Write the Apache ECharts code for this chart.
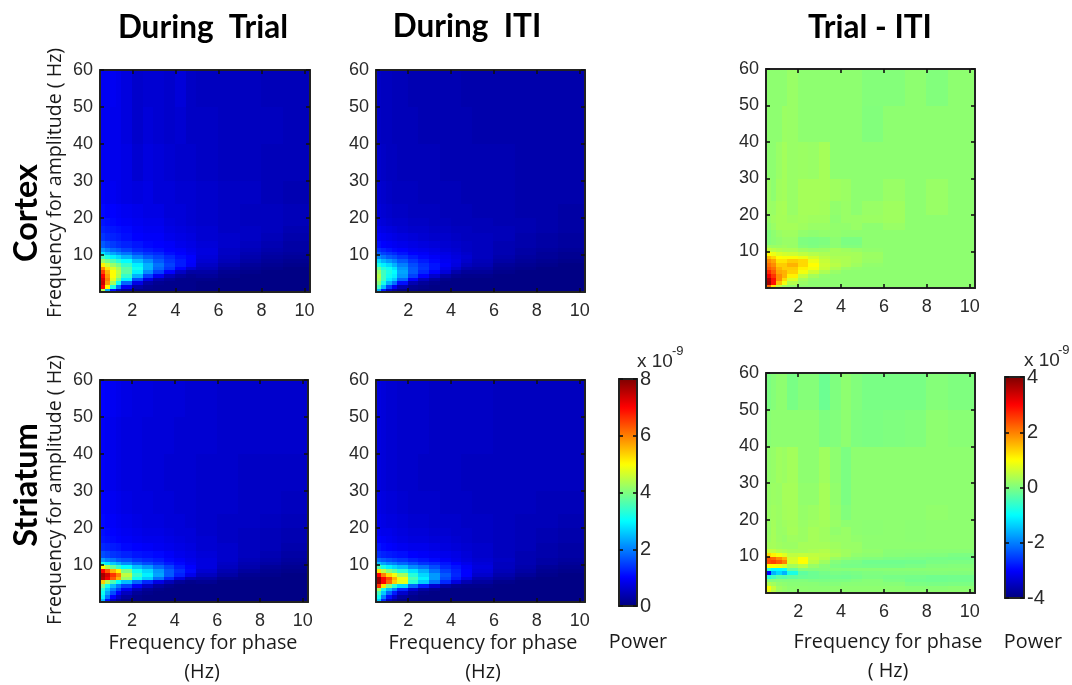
<!DOCTYPE html>
<html><head><meta charset="utf-8">
<style>html,body{margin:0;padding:0;background:#fff}#c{width:1072px;height:685px}</style>
<script src="https://cdn.jsdelivr.net/npm/echarts@6/dist/echarts.min.js"></script>
</head><body><div id="c"></div>
<script>
const phaseEdges=[0.5,0.75,1,1.25,1.5,2,2.5,3,3.5,4,4.5,5,6,7,8,9,10.25];
const ampEdges=[0,1,2,3,4,5,6,7,8,9,10,11,12,14,16,18,20,24,30,40,50,60];
const xTicks=[2,4,6,8,10];
const yTicks=[10,20,30,40,50,60];
const powerTicks=[0,2,4,6,8];
const diffTicks=[-4,-2,0,2,4];
const jetColors=['#00007f','#0000ff','#007fff','#00ffff','#7fff7f','#ffff00','#ff7f00','#ff0000','#7f0000'];

// rows run from the lowest amplitude band upward, columns from the lowest phase band rightward
const cortexTrial=[
[4.4,2.4,1.1,.5,.25,.1,.1,.1,.1,.1,.1,.05,.05,.05,.05,.05],
[7.0,5.0,3.2,1.9,.9,.3,.15,.1,.1,.1,.1,.05,.05,.05,.05,.05],
[7.4,5.8,4.3,3.1,1.8,.8,.3,.15,.1,.1,.1,.05,.05,.05,.05,.05],
[7.3,6.0,4.8,3.9,2.9,1.6,.8,.35,.2,.1,.1,.1,.05,.05,.05,.05],
[7.0,5.8,5.0,4.4,3.4,2.4,1.5,.9,.45,.25,.15,.2,.1,.05,.05,.05],
[6.5,5.6,5.0,4.5,3.7,2.9,2.1,1.5,1.0,.55,.3,.3,.15,.1,.05,.05],
[5.9,5.2,4.7,4.3,3.7,3.1,2.4,1.8,1.4,1.0,.65,.45,.25,.15,.1,.05],
[5.1,4.6,4.2,3.9,3.4,2.9,2.4,1.9,1.5,1.2,.95,.55,.35,.2,.15,.1],
[4.2,3.9,3.6,3.3,3.0,2.5,2.1,1.7,1.4,1.2,1.0,.65,.45,.3,.2,.15],
[3.5,3.2,2.9,2.7,2.4,2.0,1.7,1.5,1.3,1.1,1.0,.7,.5,.35,.25,.2],
[2.8,2.5,2.3,2.1,1.9,1.6,1.4,1.3,1.1,1.0,.9,.75,.55,.4,.3,.25],
[2.2,2.0,1.8,1.7,1.5,1.3,1.2,1.1,1.0,.95,.85,.75,.55,.45,.35,.3],
[1.7,1.55,1.45,1.35,1.25,1.15,1.05,1,.95,.85,.8,.7,.6,.5,.4,.3],
[1.4,1.3,1.25,1.2,1.1,1.0,.95,.95,.85,.8,.75,.65,.6,.55,.45,.35],
[1.25,1.2,1.15,1.1,1.05,.95,.9,.9,.8,.75,.7,.65,.55,.55,.5,.4],
[1.15,1.1,1.05,1.0,.95,.9,.85,.85,.75,.7,.65,.6,.55,.5,.5,.45],
[1.05,1.0,1.0,.95,.9,.85,.8,.8,.7,.7,.65,.6,.55,.5,.5,.45],
[.95,.9,.9,.85,.8,.75,.8,.7,.7,.65,.65,.6,.55,.55,.45,.4],
[.9,.9,.85,.85,.8,.65,.75,.7,.65,.6,.6,.55,.5,.5,.45,.45],
[.9,.9,.85,.85,.75,.6,.7,.65,.6,.65,.55,.55,.5,.5,.5,.45],
[.9,.9,.9,.85,.75,.6,.65,.65,.6,.7,.55,.5,.5,.5,.45,.45]];
const cortexITI=[
[2.4,1.2,.5,.25,.1,.1,.05,.05,.05,.05,.05,.05,.05,.05,.05,.05],
[3.5,2.5,1.5,.9,.4,.15,.1,.05,.05,.05,.05,.05,.05,.05,.05,.05],
[4.0,3.2,2.4,1.9,1.1,.4,.2,.1,.05,.05,.05,.05,.05,.05,.05,.05],
[4.3,3.5,2.9,2.6,1.8,1.0,.5,.25,.1,.05,.05,.05,.05,.05,.05,.05],
[4.4,3.5,3.1,2.9,2.2,1.5,1.0,.6,.3,.15,.1,.1,.05,.05,.05,.05],
[4.2,3.5,3.2,3.0,2.3,1.7,1.3,1.0,.7,.35,.2,.2,.1,.05,.05,.05],
[3.8,3.3,3.1,2.8,2.2,1.7,1.4,1.15,.85,.6,.35,.3,.15,.1,.05,.05],
[3.2,2.9,2.7,2.4,2.0,1.6,1.35,1.15,.95,.75,.5,.4,.2,.15,.1,.05],
[2.7,2.4,2.2,2.0,1.7,1.4,1.2,1.05,.9,.8,.6,.45,.3,.2,.15,.1],
[2.1,1.9,1.7,1.6,1.4,1.2,1.05,.95,.85,.75,.65,.5,.35,.25,.2,.15],
[1.7,1.5,1.4,1.3,1.15,1.0,.95,.85,.8,.7,.6,.5,.4,.3,.2,.15],
[1.35,1.25,1.15,1.05,1.0,.9,.85,.8,.7,.65,.55,.5,.4,.3,.25,.2],
[1.1,1.0,.95,.9,.85,.8,.75,.7,.65,.6,.55,.5,.4,.35,.3,.25],
[.95,.9,.85,.8,.75,.7,.65,.6,.6,.55,.5,.5,.45,.35,.3,.25],
[.85,.8,.75,.7,.65,.6,.6,.55,.55,.5,.5,.45,.45,.4,.35,.3],
[.75,.7,.65,.6,.6,.55,.55,.5,.5,.45,.45,.45,.4,.4,.35,.3],
[.7,.65,.6,.55,.55,.5,.5,.5,.45,.45,.45,.4,.4,.35,.35,.3],
[.65,.6,.55,.5,.5,.5,.45,.45,.45,.45,.4,.4,.4,.35,.35,.35],
[.6,.55,.5,.5,.45,.45,.45,.45,.4,.4,.4,.4,.4,.35,.35,.35],
[.55,.5,.5,.45,.45,.45,.4,.4,.4,.4,.4,.35,.35,.35,.35,.35],
[.55,.5,.5,.45,.45,.4,.4,.4,.4,.4,.35,.35,.35,.35,.35,.35]];
const cortexDiff=[
[2.2,1.2,.5,.25,.15,.12,.12,.12,.12,.12,.12,.12,.12,.12,.12,.12],
[3.7,2.9,1.5,.9,.4,.2,.12,.12,.12,.12,.12,.12,.12,.12,.12,.12],
[3.6,2.9,1.9,1.3,.7,.3,.15,.12,.12,.12,.12,.12,.12,.12,.12,.12],
[3.1,2.6,1.9,1.6,1.1,.55,.3,.15,.12,.12,.12,.12,.12,.12,.12,.12],
[2.7,2.3,1.7,1.6,1.35,.9,.6,.35,.2,.12,.12,.12,.12,.12,.12,.12],
[2.3,2.1,1.6,1.4,1.4,1.1,.9,.55,.35,.2,.15,.12,.12,.12,.12,.12],
[2.1,1.9,1.4,1.4,1.6,1.3,1.0,.6,.45,.35,.25,.15,.12,.12,.12,.12],
[1.9,1.7,1.2,1.2,1.4,1.3,.85,.55,.4,.35,.3,.2,.12,.12,.12,.12],
[1.5,1.3,1.0,.95,.95,.85,.65,.45,.35,.35,.3,.22,.12,.12,.12,.12],
[1.0,.85,.7,.65,.6,.5,.42,.35,.3,.3,.3,.22,.12,.12,.12,.12],
[.55,.45,.4,.35,.35,.25,.2,.22,.3,.25,.2,.15,.12,.12,.12,.12],
[.25,.22,.22,.25,.2,.05,.0,.05,.1,.02,.02,.12,.12,.12,.12,.12],
[.05,.1,.15,.2,.2,.0,-.02,.0,.1,-.02,-.02,.12,.12,.12,.12,.12],
[.02,.12,.2,.25,.25,.15,.12,.15,.15,.12,.12,.12,.12,.12,.12,.12],
[.12,.2,.3,.3,.3,.25,.2,.2,.15,.15,.2,.12,.2,.12,.12,.12],
[.18,.25,.3,.3,.25,.28,.25,.25,.12,.2,.2,.22,.25,.12,.12,.12],
[.22,.2,.3,.32,.2,.3,.3,.28,.15,.2,.12,.2,.25,.12,.2,.12],
[.2,.12,.25,.28,.2,.3,.3,.3,.25,.22,.12,.12,.2,.12,.2,.12],
[.12,.12,.2,.28,.2,.22,.2,.3,.12,.12,.12,.12,.12,.12,.12,.12],
[.12,.12,.12,.22,.2,.12,.12,.12,.12,.12,.12,.02,.12,.12,.12,.12],
[.12,.12,.12,.12,.2,.12,.12,.12,.12,.12,.12,.04,.04,.12,.02,.12]];
const striatumTrial=[
[2.4,1.1,.5,.25,.1,.1,.05,.05,.05,.05,.05,.05,.05,.05,.05,.05],
[2.9,1.9,1.0,.55,.25,.1,.05,.05,.05,.05,.05,.05,.05,.05,.05,.05],
[3.1,2.3,1.6,1.0,.5,.2,.1,.05,.05,.05,.05,.05,.05,.05,.05,.05],
[3.3,2.6,2.0,1.5,.9,.45,.2,.1,.05,.05,.05,.05,.05,.05,.05,.05],
[3.9,3.1,2.5,2.0,1.5,.95,.55,.25,.12,.05,.05,.05,.05,.05,.05,.05],
[5.4,4.4,3.6,3.0,2.5,1.8,1.3,.8,.45,.2,.1,.15,.05,.05,.05,.05],
[7.6,7.1,6.3,5.6,4.2,3.1,2.6,1.9,1.3,.75,.4,.3,.15,.1,.05,.05],
[7.7,7.3,6.6,6.0,4.5,3.4,2.9,2.3,1.7,1.25,.85,.5,.3,.15,.1,.05],
[7.0,6.3,5.6,5.1,4.0,3.1,2.7,2.2,1.7,1.35,1.05,.65,.4,.25,.15,.1],
[5.0,4.4,3.8,3.4,3.0,2.5,2.2,1.8,1.5,1.2,1.0,.75,.5,.35,.2,.15],
[3.2,2.9,2.6,2.4,2.1,1.8,1.6,1.4,1.2,1.05,.9,.75,.55,.4,.3,.2],
[2.2,2.0,1.9,1.7,1.6,1.4,1.3,1.2,1.05,.95,.85,.75,.6,.45,.35,.25],
[1.6,1.5,1.4,1.35,1.25,1.15,1.1,1.05,.95,.85,.8,.7,.6,.5,.4,.3],
[1.3,1.25,1.2,1.15,1.05,1.0,.95,.9,.85,.8,.75,.65,.6,.5,.45,.35],
[1.15,1.1,1.05,1.0,.95,.9,.85,.85,.8,.75,.7,.65,.55,.5,.45,.4],
[1.1,1.05,1.0,.95,.9,.85,.8,.8,.75,.7,.7,.6,.55,.5,.45,.4],
[1.05,1.0,.95,.9,.85,.8,.75,.75,.7,.7,.65,.6,.55,.55,.5,.45],
[1.0,.95,.9,.85,.8,.75,.75,.7,.7,.65,.65,.6,.6,.55,.55,.5],
[.95,.9,.85,.8,.75,.75,.7,.7,.65,.65,.65,.6,.6,.55,.55,.55],
[.95,.9,.85,.8,.75,.75,.7,.7,.7,.65,.65,.65,.6,.6,.6,.6],
[1.0,.95,.9,.85,.8,.75,.75,.7,.7,.7,.65,.65,.6,.6,.6,.6]];
const striatumITI=[
[2.6,1.3,.5,.25,.1,.1,.05,.05,.05,.05,.05,.05,.05,.05,.05,.05],
[3.1,2.0,1.1,.6,.25,.1,.05,.05,.05,.05,.05,.05,.05,.05,.05,.05],
[3.5,2.6,1.8,1.2,.6,.25,.1,.05,.05,.05,.05,.05,.05,.05,.05,.05],
[4.3,3.2,2.5,2.0,1.3,.65,.3,.15,.05,.05,.05,.05,.05,.05,.05,.05],
[6.6,5.2,4.0,3.3,2.7,1.8,1.2,.65,.3,.15,.1,.1,.05,.05,.05,.05],
[7.8,7.0,6.2,5.4,4.8,3.3,2.6,1.9,1.3,.75,.4,.25,.1,.05,.05,.05],
[7.8,7.0,6.4,5.6,4.9,3.6,2.9,2.2,1.6,1.2,.8,.4,.25,.1,.05,.05],
[7.0,6.0,5.3,4.9,4.3,3.3,2.7,2.2,1.7,1.3,1.0,.6,.35,.2,.1,.05],
[5.2,4.5,4.0,3.7,3.3,2.8,2.4,1.9,1.5,1.25,1.0,.7,.45,.3,.15,.1],
[3.6,3.2,2.9,2.7,2.5,2.1,1.9,1.6,1.3,1.15,.95,.75,.5,.35,.2,.15],
[2.5,2.3,2.1,2.0,1.8,1.6,1.4,1.3,1.15,1.0,.85,.7,.5,.4,.3,.2],
[1.8,1.7,1.6,1.5,1.4,1.25,1.15,1.05,.95,.85,.75,.65,.55,.4,.3,.25],
[1.35,1.25,1.2,1.15,1.1,1.0,.95,.9,.85,.8,.7,.6,.5,.4,.35,.3],
[1.15,1.05,1.0,.95,.9,.85,.85,.8,.75,.7,.65,.6,.5,.45,.35,.3],
[1.0,.95,.9,.85,.8,.75,.75,.7,.7,.65,.6,.55,.5,.45,.4,.35],
[.9,.85,.85,.8,.75,.7,.7,.65,.65,.6,.6,.55,.5,.45,.4,.35],
[.85,.8,.75,.75,.7,.65,.65,.6,.6,.6,.55,.55,.5,.45,.45,.4],
[.8,.75,.7,.7,.65,.6,.6,.6,.55,.55,.55,.5,.5,.5,.45,.45],
[.75,.7,.65,.65,.6,.6,.55,.55,.55,.55,.5,.5,.5,.5,.5,.5],
[.75,.7,.65,.65,.6,.6,.6,.55,.55,.55,.55,.55,.5,.5,.5,.5],
[.75,.7,.65,.65,.6,.6,.6,.55,.55,.55,.55,.55,.5,.5,.5,.5]];
const striatumDiff=[
[.8,.45,.22,.15,.12,.12,.12,.12,.12,.12,.12,.12,.12,.12,.12,.12],
[.95,.55,.25,.18,.12,.12,.1,.1,.12,.12,.12,.12,.12,.08,.08,.1],
[.4,.28,.15,.12,.08,.08,.08,.05,.05,.08,.08,.08,.06,-.02,-.04,-.02],
[.0,.02,.04,.02,.02,.02,-.02,-.04,-.02,-.02,.02,.06,-.02,-.1,-.12,-.1],
[-.7,-.5,-.3,-.35,-.25,-.18,-.15,-.12,-.1,-.12,-.08,-.02,-.06,-.08,-.12,-.1],
[-3.0,-1.6,-1.3,-1.6,-.8,-.25,-.15,-.08,-.04,-.06,-.04,.0,.02,.02,.04,.02],
[-.7,-1.0,-1.0,-.9,-.2,.06,.04,.05,.06,.06,.08,.08,.08,.08,.08,.08],
[1.0,1.0,.9,.7,.3,.45,.2,.08,-.02,-.06,-.06,-.08,-.08,-.04,.02,.04],
[2.4,2.5,2.3,2.0,.7,1.0,.45,.25,.05,-.02,-.04,-.12,-.12,-.1,-.04,-.02],
[2.3,2.2,1.9,1.6,.65,.95,.55,.4,.2,.12,.06,.02,-.02,-.04,-.06,-.08],
[1.3,1.1,.9,.75,.5,.55,.5,.45,.35,.25,.15,.12,.06,.04,.02,-.02],
[.55,.5,.4,.35,.3,.3,.35,.4,.3,.25,.2,.15,.08,.08,.08,.08],
[.28,.3,.25,.22,.22,.3,.3,.3,.25,.2,.2,.12,.12,.12,.12,.12],
[.22,.3,.22,.18,.25,.22,.3,.25,.2,.2,.15,.12,.12,.1,.12,.12],
[.18,.3,.2,.22,.3,.22,.3,.25,.15,.2,.12,.1,.12,.1,.12,.12],
[.2,.28,.2,.25,.28,.2,.25,.28,.2,.12,.12,.1,.12,.1,.12,.12],
[.2,.25,.22,.28,.3,.18,.22,.3,.18,.02,.12,.12,.12,.12,.15,.12],
[.18,.22,.2,.3,.3,.15,.15,.3,.15,-.02,.12,.12,.12,.12,.12,.12],
[.15,.18,.25,.22,.28,.12,.12,.25,.12,-.02,.12,.12,.12,.12,.12,.12],
[.08,.12,.12,.12,.12,.12,.12,.0,.02,.12,.0,-.02,.0,.02,.12,.08],
[-.02,.05,.12,.12,-.05,.05,.05,-.15,.0,.12,.02,-.05,-.05,-.05,.05,.0]];

const panels=[
 {m:cortexTrial,l:100,t:70,w:210,h:222,scale:0},
 {m:cortexITI,l:376,t:70,w:209,h:222,scale:0},
 {m:cortexDiff,l:766,t:69,w:209,h:219,scale:1},
 {m:striatumTrial,l:100,t:380,w:208,h:222,scale:0},
 {m:striatumITI,l:376,t:380,w:209,h:222,scale:0},
 {m:striatumDiff,l:766,t:373,w:209,h:220,scale:1}
];
const bars=[
 {l:619,t:379,w:18,h:227,min:0,max:8,ticks:powerTicks},
 {l:1005,t:377,w:19,h:221,min:-4,max:4,ticks:diffTicks}
];
const tickFont={fontFamily:'Liberation Sans',fontSize:18,color:'#2a2a2a'};
const barFont={fontFamily:'Liberation Sans',fontSize:20,color:'#2a2a2a'};
const lineStyle={color:'#222',width:2};
const grid=[],xAxis=[],yAxis=[],series=[];
function frame(gi,xOpt,yOpt){
  xAxis.push(Object.assign({gridIndex:gi,position:'bottom',axisLine:{show:true,onZero:false,lineStyle},splitLine:{show:false},z:10},xOpt));
  xAxis.push(Object.assign({},xOpt,{gridIndex:gi,position:'top',axisLine:{show:true,onZero:false,lineStyle},splitLine:{show:false},axisLabel:{show:false},z:10}));
  yAxis.push(Object.assign({gridIndex:gi,position:'left',axisLine:{show:true,onZero:false,lineStyle},splitLine:{show:false},z:10},yOpt));
  yAxis.push(Object.assign({},yOpt,{gridIndex:gi,position:'right',axisLine:{show:true,onZero:false,lineStyle},splitLine:{show:false},axisLabel:{show:false},z:10}));
}
const tick=(vals)=>({show:true,inside:true,length:4,lineStyle:{color:'#111',width:1.6},customValues:vals});
panels.forEach((p,i)=>{
  grid.push({left:p.l,top:p.t,width:p.w,height:p.h,show:false});
  frame(i,
   {type:'value',min:0.5,max:10.25,axisTick:tick(xTicks),axisLabel:Object.assign({customValues:xTicks,margin:10,showMinLabel:true,showMaxLabel:true},tickFont)},
   {type:'value',min:0,max:60,axisTick:tick(yTicks),axisLabel:Object.assign({customValues:yTicks,margin:7,showMinLabel:true,showMaxLabel:true},tickFont)});
  const data=[];
  p.m.forEach((row,r)=>row.forEach((v,c)=>data.push([phaseEdges[c],phaseEdges[c+1],ampEdges[r],ampEdges[r+1],v])));
  series.push({type:'custom',xAxisIndex:i*2,yAxisIndex:i*2,data,clip:true,silent:true,animation:false,
    encode:{x:[0,1],y:[2,3]},
    renderItem:(params,api)=>{
      const a=api.coord([api.value(0),api.value(2)]),b=api.coord([api.value(1),api.value(3)]);
      const x=Math.floor(a[0]),y=Math.floor(b[1]);
      return {type:'rect',shape:{x,y,width:Math.ceil(b[0])-x,height:Math.ceil(a[1])-y},style:{fill:api.visual('color')}};
    }});
});
bars.forEach((b,j)=>{
  const gi=panels.length+j;
  grid.push({left:b.l,top:b.t,width:b.w,height:b.h,show:false});
  frame(gi,
   {type:'value',min:0,max:1,axisTick:{show:false},axisLabel:{show:false}},
   {type:'value',min:b.min,max:b.max,axisTick:tick(b.ticks),axisLabel:{show:false}});
  yAxis[yAxis.length-1].axisLabel=Object.assign({show:true,customValues:b.ticks,margin:3,showMinLabel:true,showMaxLabel:true},barFont);
});
const vm=(b,seriesIndex)=>({type:'continuous',min:b.min,max:b.max,dimension:4,seriesIndex,calculable:false,hoverLink:false,
  left:b.l,top:b.t,itemWidth:b.w,itemHeight:b.h,padding:0,orient:'vertical',inRange:{color:jetColors},showLabel:false,text:null});
const T=(text,x,y,o)=>({type:'text',x,y,rotation:o.rot?Math.PI/2:0,z:20,silent:true,style:{text,x:0,y:0,align:o.align||'center',verticalAlign:'middle',
   fontFamily:o.ff||'Open Sans',fontSize:o.fs||17,fontWeight:o.fw||'normal',fill:o.fill||'#1a1a1a'}});
const title={ff:'Lato',fs:31.5,fw:'bold',fill:'#000'};
const side={ff:'Lato',fs:32.5,fw:'bold',fill:'#000',rot:true};
const lab={ff:'Open Sans',fs:19.8};
const rlab={ff:'Open Sans',fs:19.6,rot:true};
const mag={ff:'Liberation Sans',fs:19,fill:'#2a2a2a',align:'left'};
const sup={ff:'Liberation Sans',fs:13,fill:'#2a2a2a',align:'left'};
const texts=[
 T('During  Trial',203,28,title),T('During  ITI',467,27,title),T('Trial - ITI',870,28,title),
 T('Cortex',27,213,side),T('Striatum',27,485,side),
 T('Frequency for amplitude ( Hz)',55,183,rlab),T('Frequency for amplitude ( Hz)',55,490,rlab),
 T('Frequency for phase',203,643,lab),T('(Hz)',202,672,lab),
 T('Frequency for phase',483,643,lab),T('(Hz)',483,672,lab),
 T('Frequency for phase',888,642,lab),T('( Hz)',888,671,lab),
 T('Power',638,642,lab),T('Power',1033,642,lab),
 T('x 10',637,362,mag),T('-9',672,351,sup),
 T('x 10',1024,361,mag),T('-9',1058,350,sup)
];
const chart=echarts.init(document.getElementById('c'),null,{renderer:'canvas'});
chart.setOption({animation:false,backgroundColor:'#fff',grid,xAxis,yAxis,series,
  visualMap:[vm(bars[0],[0,1,3,4]),vm(bars[1],[2,5])],
  graphic:{elements:texts}});
</script></body></html>
